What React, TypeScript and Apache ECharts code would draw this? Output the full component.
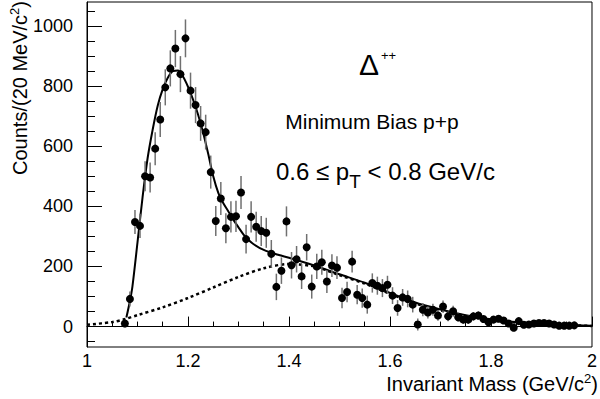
import React, { useEffect, useRef } from "react";
import * as echarts from "echarts";

// Measured points (bin centres, GeV/c^2)
const massValues = [
  1.075, 1.085, 1.095, 1.105, 1.115, 1.125, 1.135, 1.145, 1.155, 1.165,
  1.175, 1.185, 1.195, 1.205, 1.215, 1.225, 1.235, 1.245, 1.255, 1.265,
  1.275, 1.285, 1.295, 1.305, 1.315, 1.325, 1.335, 1.345, 1.355, 1.365,
  1.375, 1.385, 1.395, 1.405, 1.415, 1.425, 1.435, 1.445, 1.455, 1.465,
  1.475, 1.485, 1.495, 1.505, 1.515, 1.525, 1.535, 1.545, 1.555, 1.565,
  1.575, 1.585, 1.595, 1.605, 1.615, 1.625, 1.635, 1.645, 1.655, 1.665,
  1.675, 1.685, 1.695, 1.705, 1.715, 1.725, 1.735, 1.745, 1.755, 1.765,
  1.775, 1.785, 1.795, 1.805, 1.815, 1.825, 1.835, 1.845, 1.855, 1.865,
  1.875, 1.885, 1.895, 1.905, 1.915, 1.925, 1.935, 1.945, 1.955, 1.965,
];
const countValues = [
  10, 92, 348, 335, 500, 496, 592, 689, 796, 859,
  925, 840, 959, 785, 737, 676, 647, 514, 351, 426,
  327, 365, 367, 446, 291, 365, 332, 318, 312, 242,
  132, 186, 350, 204, 224, 167, 264, 133, 200, 214,
  150, 203, 196, 95, 115, 216, 106, 95, 73, 145,
  136, 128, 139, 103, 62, 97, 92, 73, 7, 56,
  47, 56, 37, 67, 34, 51, 31, 23, 23, 34,
  37, 25, 14, 23, 26, 20, 10, -4, 18, 6,
  7, 10, 12, 12, 10, 7, 3, 3, 3, 4,
];
const errorValues = [
  12, 25, 40, 40, 50, 50, 55, 58, 60, 60,
  62, 60, 63, 60, 60, 58, 58, 55, 50, 55,
  50, 52, 52, 55, 48, 52, 50, 50, 50, 46,
  44, 44, 50, 44, 44, 42, 44, 40, 42, 42,
  38, 38, 38, 34, 34, 36, 32, 32, 30, 32,
  30, 30, 30, 28, 26, 28, 28, 26, 20, 22,
  20, 20, 18, 20, 16, 18, 15, 14, 14, 14,
  14, 12, 10, 12, 12, 10, 8, 6, 8, 6,
  6, 6, 6, 6, 5, 5, 4, 4, 4, 4,
];

// Total fit (solid curve)
const fitMass = [
  1.078, 1.085, 1.09, 1.1, 1.11, 1.12, 1.13, 1.14, 1.15, 1.16, 1.17, 1.18,
  1.19, 1.2, 1.21, 1.22, 1.23, 1.24, 1.25, 1.26, 1.27, 1.28, 1.29, 1.3,
  1.31, 1.32, 1.33, 1.35, 1.38, 1.4, 1.45, 1.5, 1.55, 1.6, 1.65, 1.7,
  1.75, 1.8, 1.85, 1.9, 1.95, 2.0,
];
const fitValues = [
  30, 85, 134, 280, 430, 560, 655, 735, 790, 828, 850, 852,
  832, 798, 755, 705, 645, 575, 500, 445, 410, 383, 355, 330,
  306, 288, 274, 255, 238, 229, 203, 174, 146, 112, 80, 57,
  38, 24, 15, 9, 5, 3,
];

// Background (dotted curve)
const bgMass = [
  1.0, 1.05, 1.075, 1.1, 1.15, 1.2, 1.25, 1.3, 1.35, 1.4, 1.45, 1.5,
  1.55, 1.6, 1.65, 1.7, 1.75, 1.8, 1.85, 1.9, 1.95, 2.0,
];
const bgValues = [
  6, 15, 25, 38, 64, 95, 130, 165, 194, 208, 200, 171,
  143, 109, 77, 54, 35, 22, 13, 8, 5, 2,
];

const yMajorTicks = [0, 200, 400, 600, 800, 1000];
const yMinorTicks = [-50, 50, 100, 150, 250, 300, 350, 450, 500, 550, 650, 700, 750, 850, 900, 950, 1050];

const FONT = "'Liberation Sans', Arial, sans-serif";

export default function App() {
  const ref = useRef<HTMLDivElement>(null);

  useEffect(() => {
    if (!ref.current) return;
    const chart = echarts.init(ref.current, null, { renderer: "svg" });

    const points = massValues.map((m, i) => [m, countValues[i]]);
    const bars = massValues.map((m, i) => [m, countValues[i], errorValues[i]]);
    const fit = fitMass.map((m, i) => [m, fitValues[i]]);
    const bg = bgMass.map((m, i) => [m, bgValues[i]]);

    const yBase = {
      type: "value",
      min: -68,
      max: 1080,
      position: "left",
      splitLine: { show: false },
    };

    chart.setOption({
      animation: false,
      backgroundColor: "#fff",
      grid: {
        left: 87,
        right: 7,
        top: 2,
        bottom: 52,
        show: true,
        borderColor: "#000",
        borderWidth: 1,
        backgroundColor: "transparent",
      },
      xAxis: {
        type: "value",
        min: 1,
        max: 2,
        interval: 0.2,
        axisLine: { show: true, lineStyle: { color: "#000", width: 1 } },
        axisTick: { show: true, inside: true, length: 10, lineStyle: { color: "#000" } },
        minorTick: { show: true, splitNumber: 4, length: 5, lineStyle: { color: "#000" } },
        axisLabel: {
          margin: 5,
          fontSize: 18,
          color: "#000",
          fontFamily: FONT,
          formatter: (v: number) => String(Math.round(v * 10) / 10),
        },
        splitLine: { show: false },
        minorSplitLine: { show: false },
      },
      yAxis: [
        {
          ...yBase,
          axisLine: { show: true, lineStyle: { color: "#000", width: 1 } },
          axisTick: {
            show: true,
            inside: true,
            length: 15,
            customValues: yMajorTicks,
            lineStyle: { color: "#000" },
          },
          axisLabel: {
            show: true,
            margin: 14,
            fontSize: 18,
            color: "#000",
            fontFamily: FONT,
            customValues: yMajorTicks,
            formatter: (v: number) => String(Math.round(v)),
          },
        },
        {
          ...yBase,
          axisLine: { show: false },
          axisTick: {
            show: true,
            inside: true,
            length: 8,
            customValues: yMinorTicks,
            lineStyle: { color: "#000" },
          },
          axisLabel: { show: false },
        },
      ],
      graphic: [
        {
          type: "text",
          x: 20,
          y: 1,
          rotation: Math.PI / 2,
          style: {
            text: "Counts/(20 MeV/c{s|2})",
            fontSize: 20,
            fontFamily: FONT,
            fill: "#000",
            align: "right",
            verticalAlign: "middle",
            lineHeight: 24,
            rich: {
              s: { fontSize: 13, lineHeight: 13, verticalAlign: "top", fontFamily: FONT, fill: "#000" },
            },
          },
        },
        {
          type: "text",
          x: 598,
          y: 384,
          style: {
            text: "Invariant Mass (GeV/c{s|2})",
            fontSize: 20,
            fontFamily: FONT,
            fill: "#000",
            align: "right",
            verticalAlign: "middle",
            lineHeight: 24,
            rich: {
              s: { fontSize: 13, lineHeight: 13, verticalAlign: "top", fontFamily: FONT, fill: "#000" },
            },
          },
        },
        {
          type: "text",
          x: 359,
          y: 64,
          style: {
            text: "Δ",
            fontSize: 30,
            fontFamily: FONT,
            fill: "#000",
            align: "left",
            verticalAlign: "middle",
          },
        },
        {
          type: "text",
          x: 381,
          y: 55,
          style: {
            text: "++",
            fontSize: 13,
            fontFamily: FONT,
            fill: "#000",
            align: "left",
            verticalAlign: "middle",
          },
        },
        {
          type: "text",
          x: 372,
          y: 121,
          style: {
            text: "Minimum Bias p+p",
            fontSize: 21,
            fontFamily: FONT,
            fill: "#000",
            align: "center",
            verticalAlign: "middle",
          },
        },
        {
          type: "text",
          x: 276,
          y: 171,
          style: {
            text: "{a|0.6 ≤ p}{t|T}{a| < 0.8 GeV/c}",
            fontSize: 24,
            fontFamily: FONT,
            fill: "#000",
            align: "left",
            verticalAlign: "middle",
            rich: {
              a: { fontSize: 24, lineHeight: 40, fontFamily: FONT, fill: "#000" },
              t: { fontSize: 19, lineHeight: 14, verticalAlign: "bottom", fontFamily: FONT, fill: "#000" },
            },
          },
        },
      ],
      series: [
        {
          type: "line",
          data: bg,
          yAxisIndex: 0,
          showSymbol: false,
          smooth: 0.3,
          lineStyle: { color: "#000", width: 2.5, type: [3, 3] },
          z: 2,
        },
        {
          type: "line",
          data: fit,
          yAxisIndex: 0,
          showSymbol: false,
          smooth: 0.3,
          lineStyle: { color: "#000", width: 2 },
          z: 3,
        },
        {
          type: "custom",
          data: bars,
          yAxisIndex: 0,
          z: 4,
          renderItem: (params: any, api: any) => {
            const x = api.value(0);
            const y = api.value(1);
            const e = api.value(2);
            const p1 = api.coord([x, y + e]);
            const p2 = api.coord([x, y - e]);
            return {
              type: "line",
              shape: { x1: p1[0], y1: p1[1], x2: p2[0], y2: p2[1] },
              style: { stroke: "#707070", lineWidth: 1.5 },
            };
          },
        },
        {
          type: "scatter",
          data: points,
          yAxisIndex: 0,
          symbol: "circle",
          symbolSize: 8,
          itemStyle: { color: "#000", opacity: 1 },
          z: 5,
        },
      ],
    });

    return () => chart.dispose();
  }, []);

  return (
    <div
      ref={ref}
      style={{ position: "fixed", left: 0, top: 0, width: 600, height: 399, background: "#fff" }}
    />
  );
}
